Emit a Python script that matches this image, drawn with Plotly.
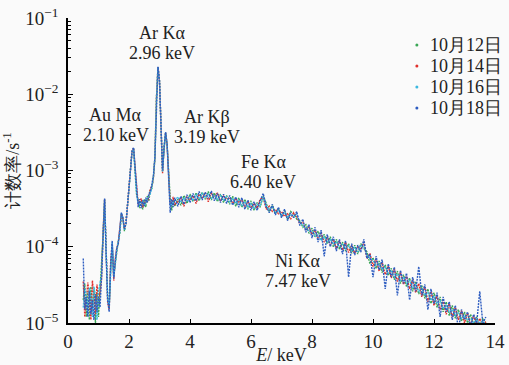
import plotly.graph_objects as go

# Energy channels (keV)
energy = [0.50, 0.55, 0.60, 0.65, 0.70, 0.75, 0.80, 0.85, 0.90, 0.95,
          1.00, 1.05, 1.10, 1.15, 1.20, 1.25, 1.30, 1.35, 1.40, 1.45,
          1.50, 1.55, 1.60, 1.65, 1.70, 1.75, 1.80, 1.85, 1.90, 1.95,
          2.00, 2.05, 2.10, 2.15, 2.20, 2.25, 2.30, 2.35, 2.40, 2.45,
          2.50, 2.55, 2.60, 2.65, 2.70, 2.75, 2.80, 2.85, 2.90, 2.95,
          3.00, 3.05, 3.10, 3.15, 3.20, 3.25, 3.30, 3.35, 3.40, 3.45,
          3.50,
          3.6, 3.7, 3.8, 3.9, 4.0, 4.1, 4.2, 4.3, 4.4, 4.5,
          4.6, 4.7, 4.8, 4.9, 5.0, 5.1, 5.2, 5.3, 5.4, 5.5,
          5.6, 5.7, 5.8, 5.9, 6.0, 6.1, 6.2, 6.3, 6.4, 6.5,
          6.6, 6.7, 6.8, 6.9, 7.0, 7.1, 7.2, 7.3, 7.4, 7.5,
          7.6, 7.7, 7.8, 7.9, 8.0, 8.1, 8.2, 8.3, 8.4, 8.5,
          8.6, 8.7, 8.8, 8.9, 9.0, 9.1, 9.2, 9.3, 9.4, 9.5,
          9.6, 9.7, 9.8, 9.9, 10.0, 10.1, 10.2, 10.3, 10.4, 10.5,
          10.6, 10.7, 10.8, 10.9, 11.0, 11.1, 11.2, 11.3, 11.4, 11.5,
          11.6, 11.7, 11.8, 11.9, 12.0, 12.1, 12.2, 12.3, 12.4, 12.5,
          12.6, 12.7, 12.8, 12.9, 13.0, 13.1, 13.2, 13.3, 13.4, 13.5,
          13.6, 13.7]

# Count rates in units of 1e-5 s^-1
rate_1012 = [2.0, 3.3, 1.2, 2.6, 1.1, 3.0, 1.5, 2.7, 1.0, 2.5,
             1.2, 2.8, 4.5, 14, 41, 7.5, 2.2, 1.6, 5.5, 10,
             4.2, 6.0, 9.0, 12, 15, 27, 23, 16, 21, 33,
             58, 105, 175, 192, 105, 48, 41, 32, 40, 31,
             42, 33, 46, 40, 56, 58, 82, 145, 880, 2250,
             1480, 290, 98, 195, 310, 215, 78, 44, 30, 41,
             34,
             42, 35, 47, 37, 49, 39, 51, 40, 52, 42,
             53, 41, 51, 39, 49, 38, 47, 36, 46, 34,
             44, 33, 42, 31, 40, 30, 38, 33, 46, 37,
             29, 35, 27, 32, 25, 30, 23, 29, 27, 23,
             22, 18, 19.5, 15, 17.5, 13.5, 16, 12.5, 14.5, 11,
             13.5, 10, 12.5, 9.3, 11.5, 8.8, 11, 8.2, 10.5, 8.0,
             11, 9.5, 8.6, 6.0, 7.2, 5.2, 6.5, 4.6, 5.8, 4.2,
             5.2, 3.7, 4.8, 3.3, 4.3, 3.0, 3.9, 2.6, 3.5, 2.4,
             3.1, 2.1, 2.8, 1.8, 2.5, 1.6, 2.2, 1.4, 1.9, 1.25,
             1.7, 1.15, 1.5, 1.05, 1.4, 1.0, 1.3, 0.95, 1.2, 0.9,
             1.15, 1.0]

rate_1014 = [3.5, 1.2, 2.0, 3.4, 2.2, 1.1, 3.6, 2.0, 1.3, 3.2,
             2.1, 2.5, 3.8, 16, 42, 9.0, 1.9, 1.5, 6.5, 11,
             3.6, 7.0, 9.8, 11.5, 16.5, 27, 24, 17.5, 20, 36,
             62, 112, 182, 196, 108, 51, 36, 39, 43, 33,
             36, 40, 39, 44, 58, 61, 80, 150, 890, 2280,
             1490, 295, 92, 198, 315, 218, 80, 36, 38, 45,
             36,
             39, 44, 34, 45, 41, 47, 37, 49, 44, 51,
             39, 50, 45, 51, 40, 46, 42, 44, 37, 43,
             38, 41, 34, 39, 33, 37, 32, 42, 44, 31,
             34, 29, 31, 27, 29, 25, 27, 23, 28, 25,
             20, 21, 16.5, 18, 14.5, 16.5, 13, 15, 11.5, 13.5,
             10.5, 12.5, 9.5, 12, 9.0, 11.5, 8.4, 10.5, 8.2, 10,
             9.2, 11.5, 7.0, 8.2, 5.5, 7.0, 4.8, 6.2, 4.3, 5.6,
             3.9, 5.1, 3.5, 4.6, 3.2, 4.1, 2.8, 3.7, 2.5, 3.3,
             2.2, 3.0, 1.9, 2.6, 1.7, 2.3, 1.5, 2.0, 1.3, 1.8,
             1.2, 1.6, 1.1, 1.45, 1.0, 1.35, 0.95, 1.25, 0.9, 1.15,
             0.9, 1.05]

rate_1016 = [1.6, 2.8, 2.4, 1.3, 2.9, 2.2, 1.2, 3.0, 2.3, 1.1,
             2.6, 3.3, 4.2, 15, 42, 8.5, 2.1, 1.7, 5.8, 11.5,
             4.0, 6.3, 9.3, 11.8, 15.5, 28, 23.5, 16.5, 20.5, 34,
             60, 108, 178, 195, 106, 49, 38, 36, 37, 39,
             35, 37, 43, 45, 50, 61, 83, 148, 885, 2270,
             1485, 292, 97, 197, 315, 217, 79, 35, 36, 38,
             41,
             45, 38, 44, 40, 46, 40, 48, 42, 50, 44,
             49, 43, 48, 42, 47, 41, 45, 39, 43, 37,
             41, 35, 39, 33, 37, 32, 36, 35, 45, 33,
             31, 33, 28, 30, 26, 28, 24, 26, 25, 27,
             21, 19, 17.5, 16, 16, 14, 14.5, 12, 13.5, 11.5,
             12.5, 10.8, 11.5, 10, 10.8, 9.4, 10.2, 9.0, 9.8, 8.6,
             10.5, 10.2, 7.8, 7.0, 6.6, 5.8, 6.0, 5.0, 5.4, 4.5,
             4.9, 4.0, 4.4, 3.6, 4.0, 3.3, 3.6, 2.9, 3.2, 2.6,
             2.8, 2.3, 2.5, 2.0, 2.2, 1.8, 1.95, 1.55, 1.7, 1.4,
             1.5, 1.25, 1.35, 1.15, 1.25, 1.1, 1.15, 1.0, 1.1, 1.0,
             1.05, 0.95]

rate_1018 = [7.0, 1.5, 2.2, 1.2, 2.6, 1.3, 2.0, 1.1, 2.4, 1.4,
             2.2, 1.6, 4.0, 15, 43, 8.0, 2.0, 1.4, 6.0, 12,
             3.8, 6.5, 9.5, 11, 16, 28, 24, 17, 20, 35,
             60, 110, 180, 200, 110, 50, 33, 42, 32, 41,
             34, 44, 38, 50, 52, 66, 85, 150, 900, 2300,
             1500, 300, 100, 200, 320, 220, 80, 28, 42, 33,
             44,
             34, 46, 36, 48, 38, 50, 40, 53, 41, 52,
             43, 54, 40, 50, 38, 49, 37, 47, 35, 45,
             33, 44, 31, 41, 30, 39, 30, 40, 50, 34,
             28, 36, 26, 33, 24, 31, 22, 28, 24, 29,
             19, 23, 15.5, 19.5, 13, 18, 11.5, 16.5, 7.5, 14.5,
             10, 13.5, 8.8, 12.5, 8.0, 12, 4.0, 11, 7.8, 10.5,
             8.5, 12.5, 7.0, 8.0, 4.0, 7.5, 5.0, 6.8, 2.8, 6.0,
             4.0, 5.4, 2.3, 4.9, 3.3, 4.5, 2.0, 4.0, 2.6, 5.5,
             2.3, 3.2, 1.5, 2.8, 1.8, 2.5, 1.2, 2.2, 1.4, 1.9,
             1.1, 1.7, 0.8, 1.5, 1.1, 1.4, 0.9, 1.3, 1.0, 2.6,
             1.0, 1.2]

series_names = ["10月12日", "10月14日", "10月16日", "10月18日"]
series_rates = [rate_1012, rate_1014, rate_1016, rate_1018]
series_colors = ["#3aa655", "#e0302c", "#3cb8df", "#2d5cc0"]

# Peak labels: line name, energy text, label centre (keV, log10 rate)
peak_names = ["Au Mα", "Ar Kα", "Ar Kβ", "Fe Kα", "Ni Kα"]
peak_energies = ["2.10 keV", "2.96 keV", "3.19 keV", "6.40 keV", "7.47 keV"]
peak_label_x = [1.57, 3.08, 4.56, 6.40, 7.54]
peak_label_y = [-2.40, -1.33, -2.43, -3.02, -4.32]

FONT = "Times New Roman"
SCALE = 1e-5

fig = go.Figure()
for name, rates, col in zip(series_names, series_rates, series_colors):
    fig.add_trace(go.Scatter(
        x=energy, y=[r * SCALE for r in rates], mode="lines",
        line=dict(color=col, width=1.4, dash="2px,1px"),
        showlegend=False, name=name))

for nm, en, xx, yy in zip(peak_names, peak_energies, peak_label_x, peak_label_y):
    for txt, shift in ((nm, 10), (en, -10)):
        fig.add_annotation(x=xx, y=yy, xref="x", yref="y", text=txt, yshift=shift,
                           showarrow=False, font=dict(family=FONT, size=18, color="#222"),
                           xanchor="center", yanchor="middle")

# Legend drawn as dots + text entries
leg_y = [0.9115, 0.8426, 0.7738, 0.7049]
for name, col, ly in zip(series_names, series_colors, leg_y):
    fig.add_shape(type="circle", xref="paper", yref="paper",
                  xsizemode="pixel", ysizemode="pixel",
                  xanchor=0.817, yanchor=ly, x0=-1.5, x1=1.5, y0=-1.5, y1=1.5,
                  fillcolor=col, line=dict(width=0))
    fig.add_annotation(x=0.842, y=ly, xref="paper", yref="paper", text=name,
                       showarrow=False, xanchor="left", yanchor="middle",
                       font=dict(family=FONT, size=18, color="#222"))

ytv = [1e-5, 1e-4, 1e-3, 1e-2, 1e-1]
ytt = ["10<sup>−5</sup>", "10<sup>−4</sup>", "10<sup>−3</sup>", "10<sup>−2</sup>", "10<sup>−1</sup>"]
minor_vals = [m * d for d in [1e-5, 1e-4, 1e-3, 1e-2] for m in range(2, 10)]

fig.update_layout(
    width=509, height=365,
    margin=dict(l=68, r=14, t=18, b=42, autoexpand=False),
    paper_bgcolor="#fafafa", plot_bgcolor="#fafafa",
    font=dict(family=FONT, size=18, color="#222"),
    showlegend=False,
    xaxis=dict(range=[0, 14], tickvals=[0, 2, 4, 6, 8, 10, 12, 14],
               ticks="inside", ticklen=4, tickwidth=1.2, tickcolor="#000",
               showline=True, linecolor="#000", linewidth=1.5,
               showgrid=False, zeroline=False, ticklabelstandoff=0,
               automargin=False,
               title=dict(text="<i>E</i>/ keV", standoff=6,
                          font=dict(family=FONT, size=18)),
               tickfont=dict(family=FONT, size=19)),
    yaxis=dict(type="log", range=[-5, -1], tickvals=ytv, ticktext=ytt,
               ticks="inside", ticklen=5, tickwidth=1.2, tickcolor="#000",
               minor=dict(ticks="inside", ticklen=3, tickvals=minor_vals,
                          tickcolor="#000", tickwidth=1),
               showline=True, linecolor="#000", linewidth=1.5,
               showgrid=False, zeroline=False, ticklabelstandoff=4,
               automargin=False,
               title=dict(text="计数率/s<sup>-1</sup>", standoff=2,
                          font=dict(family=FONT, size=18)),
               tickfont=dict(family=FONT, size=19)),
)

fig.write_html("out.html")
